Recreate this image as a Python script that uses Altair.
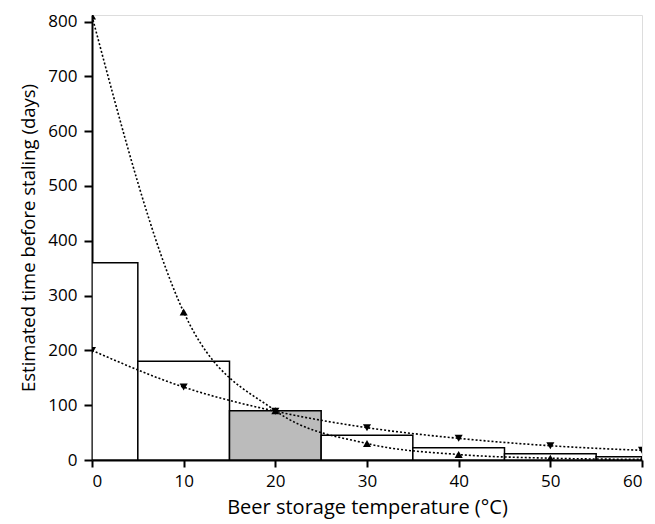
import altair as alt
import pandas as pd

# Histogram-like bars (temperature bins and estimated days)
bin_start = [0, 5, 15, 25, 35, 45, 55]
bin_end = [5, 15, 25, 35, 45, 55, 60]
bar_days = [360, 180, 90, 45, 22.5, 11.5, 6]
bar_highlight = [False, False, True, False, False, False, False]

# Curve points
temps = [0, 10, 20, 30, 40, 50, 60]
steep_days = [810, 270, 90, 30, 10, 3.3, 1.1]      # up triangles
shallow_days = [200, 133, 89, 59, 39.5, 26, 17.6]  # down triangles

bars = pd.DataFrame({"x0": bin_start, "x1": bin_end, "y": bar_days, "hl": bar_highlight})
steep = pd.DataFrame({"t": temps, "d": steep_days})
shallow = pd.DataFrame({"t": temps, "d": shallow_days})

FONT = "Open Sans"
xscale = alt.Scale(domain=[0, 60], nice=False, zero=False)
yscale = alt.Scale(domain=[0, 812], nice=False)

xaxis = alt.Axis(
    title="Beer storage temperature (°C)", values=[0, 10, 20, 30, 40, 50, 60],
    grid=False, domainColor="black", domainWidth=2, tickColor="black", tickWidth=2,
    tickSize=7, labelFontSize=17, labelFont=FONT, labelColor="black", labelPadding=6,
    titleFont=FONT, titleFontSize=20, titleFontWeight="normal", titleColor="black",
    titlePadding=8,
)
yaxis = alt.Axis(
    title="Estimated time before staling (days)", values=list(range(0, 801, 50)),
    labelExpr="datum.value % 100 === 0 ? datum.label : ''",
    grid=False, domainColor="black", domainWidth=2, tickColor="black", tickWidth=2,
    tickSize={"condition": {"test": "datum.value % 100 === 0", "value": 8}, "value": 5},
    labelFontSize=17, labelFont=FONT, labelColor="black", labelPadding=7,
    titleFont=FONT, titleFontSize=18.5, titleFontWeight="normal", titleColor="black",
    titlePadding=9,
)

bar_layer = alt.Chart(bars).mark_rect(stroke="black", strokeWidth=1.5, clip=True).encode(
    x=alt.X("x0:Q", scale=xscale, axis=xaxis),
    x2="x1:Q",
    y=alt.Y("y:Q", scale=yscale, axis=yaxis),
    y2=alt.datum(0),
    fill=alt.condition("datum.hl", alt.value("#bbbbbb"), alt.value("white")),
)

def curve(df, shape):
    line = alt.Chart(df).mark_line(
        color="black", strokeDash=[2, 2], strokeWidth=1.6, interpolate="monotone", clip=True
    ).encode(x=alt.X("t:Q", scale=xscale), y=alt.Y("d:Q", scale=yscale))
    pts = alt.Chart(df).mark_point(
        shape=shape, filled=True, color="black", size=65, opacity=1, clip=True
    ).encode(x=alt.X("t:Q", scale=xscale), y=alt.Y("d:Q", scale=yscale))
    return line + pts

chart = alt.layer(
    bar_layer, curve(steep, "triangle-up"), curve(shallow, "triangle-down")
).properties(
    width=550, height=445,
    autosize=alt.AutoSizeParams(type="none"),
    padding={"left": 84, "top": 7, "right": 5, "bottom": 60},
).configure_view(stroke=None).configure(background="white")

chart.save("out.html", embed_options={"renderer": "svg", "actions": False})
